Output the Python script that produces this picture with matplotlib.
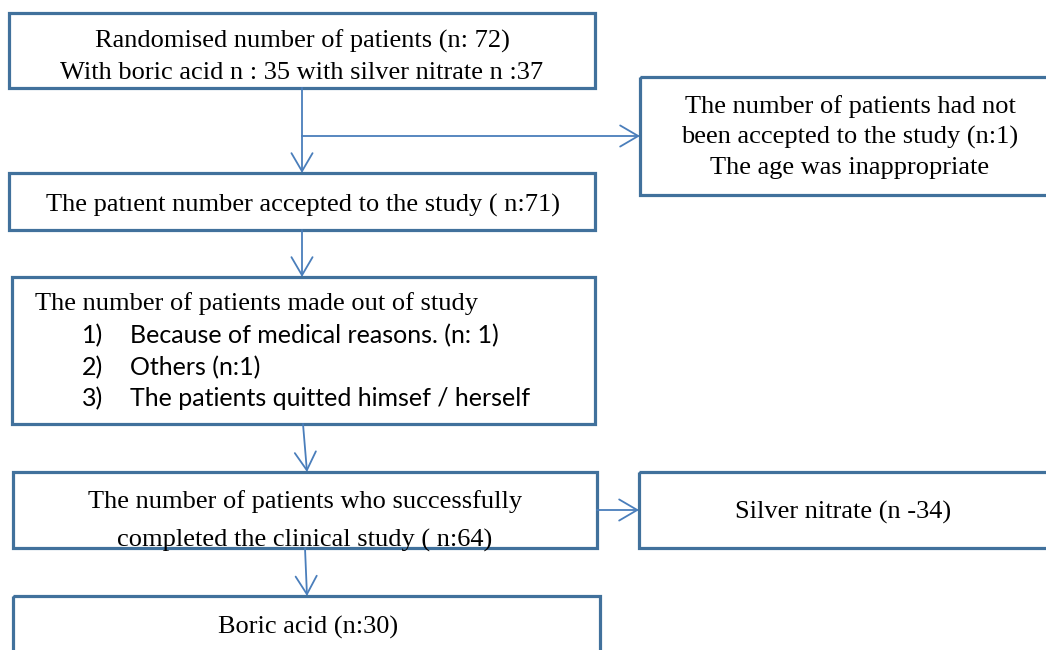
import matplotlib.pyplot as plt
from matplotlib.patches import Rectangle

# flowchart texts
randomised = ["Randomised number of patients (n: 72)",
              "With boric acid n : 35 with silver nitrate n :37"]
accepted = "The patıent number accepted to the study ( n:71)"
not_accepted = ["The number of patients had not",
                "been accepted to the study (n:1)",
                "The age was inappropriate"]
dropout_title = "The number of patients made out of study"
dropout_nums = ["1)", "2)", "3)"]
dropout_items = ["Because of medical reasons. (n: 1)",
                 "Others (n:1)",
                 "The patients quitted himsef / herself"]
completed = ["The number of patients who successfully",
             "completed the clinical study ( n:64)"]
silver = "Silver nitrate (n -34)"
boric = "Boric acid (n:30)"

BOX = "#41719C"
ARR = "#4A7EBB"
SERIF = "Liberation Serif"
FS = 19

fig = plt.figure(figsize=(10.46, 6.5), dpi=100)
ax = fig.add_axes([0, 0, 1, 1])
ax.set_xlim(0, 1046)
ax.set_ylim(650, 0)
ax.axis("off")


def box(x0, y0, x1, y1):
    r = Rectangle((x0, y0), x1 - x0, y1 - y0, fill=False, edgecolor=BOX, lw=2.3)
    ax.add_patch(r)
    return r


def arrow(x0, y0, x1, y1):
    ax.annotate("", xy=(x1, y1), xytext=(x0, y0),
                arrowprops=dict(arrowstyle="->,head_length=0.65,head_width=0.38",
                                color=ARR, lw=1.3, mutation_scale=20,
                                shrinkA=0, shrinkB=0))


def txt(x, y, s, clip=None, size=FS, family=SERIF, ha="center", va="center"):
    t = ax.text(x, y, s, ha=ha, va=va, fontsize=size, family=family)
    if clip is not None:
        t.set_clip_path(clip)
    return t


# box 1
box(9, 13, 595, 88)
txt(302, 41, randomised[0])
txt(302, 73, randomised[1])

# branch to exclusion
ax.plot([302, 302], [88, 136], color=ARR, lw=1.3)
arrow(302, 136, 640, 136)
arrow(302, 136, 302, 173)

# right exclusion box
box(640, 77, 1050, 195)
for i, s in enumerate(not_accepted):
    txt(850, 107 + i * 30.5, s)

# box 2
box(9, 173, 595, 230)
txt(303, 205, accepted)
arrow(302, 230, 302, 277)

# box 3
box(12, 277, 595, 424)
txt(35, 304, dropout_title, ha="left")
for i in range(3):
    txt(82, 336 + i * 31.5, dropout_nums[i], size=18, family="Lato", ha="left")
    txt(130, 336 + i * 31.5, dropout_items[i], size=18, family="Lato", ha="left")
arrow(303, 424, 307, 472)

# box 4, second line cut off at the bottom like in the source
box(13, 472, 597, 548)
cut = Rectangle((13, 472), 584, 73, transform=ax.transData, visible=False)
ax.add_patch(cut)
txt(305, 508, completed[0], va="baseline")
txt(305, 547, completed[1], clip=cut, va="baseline")
arrow(597, 510, 639, 510)

box(639, 472, 1050, 548)
txt(843, 512, silver)
arrow(305, 548, 307, 596)

# box 5
box(13, 596, 600, 660)
txt(308, 627, boric)

fig.savefig("out.png", dpi=100)
